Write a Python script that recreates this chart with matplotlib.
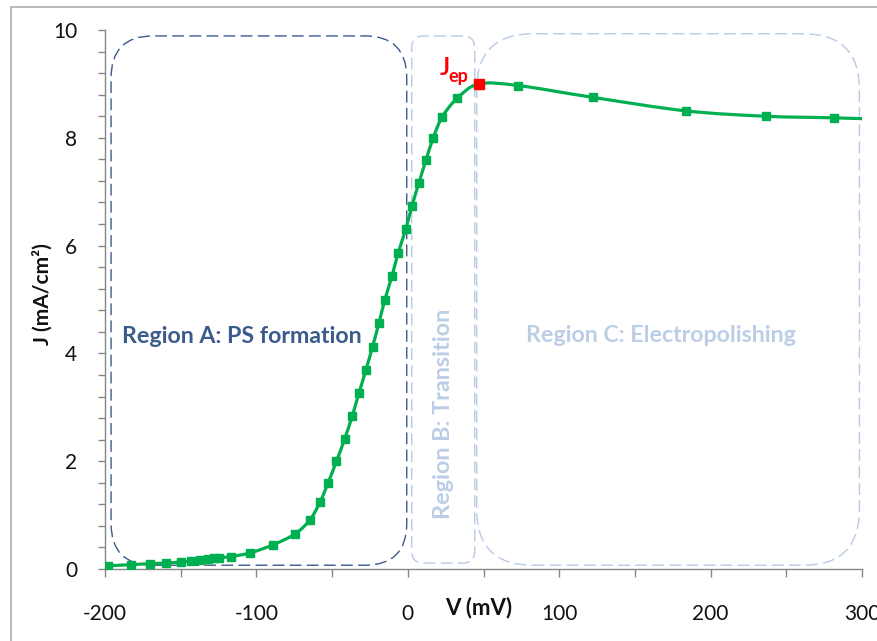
import numpy as np
import matplotlib
matplotlib.use("Agg")
import matplotlib.pyplot as plt
from matplotlib.patches import FancyBboxPatch, Rectangle, PathPatch
from matplotlib.path import Path
from matplotlib.ticker import MultipleLocator

plt.rcParams['font.family'] = ['Lato', 'DejaVu Sans']

# ---------------- data ----------------
V = [-198, -183, -170, -160, -150, -143, -137, -132, -128, -125, -117, -104,
     -89, -74.5, -64.7, -58, -52.6, -47.1, -41.6, -36.8, -32.3, -27.7, -23.3,
     -19.1, -15.2, -10.4, -6.4, -1.3, 2.8, 7.3, 11.9, 16.7, 22.6, 32.5, 46.9,
     72.8, 122.3, 183.5, 236.3, 281.8, 330]
J = [0.06, 0.08, 0.10, 0.11, 0.13, 0.15, 0.17, 0.19, 0.20, 0.21, 0.23, 0.30,
     0.45, 0.65, 0.91, 1.24, 1.60, 2.00, 2.42, 2.83, 3.26, 3.69, 4.12,
     4.56, 4.99, 5.44, 5.86, 6.31, 6.74, 7.16, 7.58, 7.99, 8.38, 8.73, 9.00,
     8.97, 8.75, 8.50, 8.40, 8.37, 8.33]
V_ep = [46.9]
J_ep = [9.00]

x_ticks = [-200, -100, 0, 100, 200, 300]
y_ticks = [0, 2, 4, 6, 8, 10]
region_labels = ["Region A: PS formation", "Region B: Transition",
                 "Region C: Electropolishing"]

GREEN = '#00B050'
DARK = '#3B5B8C'
LIGHT = '#B8CAE6'
LIGHT_TXT = '#BCCDE6'
GRAY = '#868686'

W, H = 877, 641
fig = plt.figure(figsize=(W / 100, H / 100), dpi=100)
x0px, x1px, y0px, y1px = 105, 862, 569, 30
ax = fig.add_axes([x0px / W, 1 - y0px / H, (x1px - x0px) / W, (y0px - y1px) / H])
ax.set_xlim(-200, 300)
ax.set_ylim(0, 10)

# outer chart-area border
fig.patches.append(Rectangle((11 / W, -0.1), 1.2, 1 - 7 / H + 0.1,
                             transform=fig.transFigure, fill=False,
                             edgecolor='#A6A6A6', lw=1.1))

# scales for rounding aspect
px_per_x = (x1px - x0px) / 500.0
px_per_y = (y0px - y1px) / 10.0
aspect = px_per_x / px_per_y


def region_box(xa, xb, ya, yb, r_px, color, lw=1.0):
    r = r_px / px_per_x
    p = FancyBboxPatch((xa, ya), xb - xa, yb - ya,
                       boxstyle=f"round,pad=0,rounding_size={r}",
                       mutation_aspect=aspect, fill=False, edgecolor=color,
                       lw=lw, linestyle=(0, (8.5, 3.8)), zorder=1,
                       clip_on=False)
    ax.add_patch(p)


region_box(-196, -0.7, 0.07, 9.89, 42, DARK, 1.0)
region_box(2.6, 44.2, 0.11, 9.89, 12, LIGHT, 1.0)
region_box(45.5, 298.3, 0.07, 9.93, 56, LIGHT, 1.0)


# smoothed line (Catmull-Rom bezier through the data points, as Excel does)
def smooth_path(x, y):
    pts = np.column_stack([x, y]).astype(float)
    n = len(pts)
    verts = [tuple(pts[0])]
    codes = [Path.MOVETO]
    for i in range(n - 1):
        p0 = pts[max(i - 1, 0)]
        p1 = pts[i]
        p2 = pts[i + 1]
        p3 = pts[min(i + 2, n - 1)]
        c1 = p1 + (p2 - p0) / 6.0
        c2 = p2 - (p3 - p1) / 6.0
        verts += [tuple(c1), tuple(c2), tuple(p2)]
        codes += [Path.CURVE4] * 3
    return Path(verts, codes)


ax.add_patch(PathPatch(smooth_path(V, J), facecolor='none', edgecolor=GREEN,
                       lw=2.3, zorder=3, capstyle='round', joinstyle='round'))
ax.plot(V, J, ls='none', marker='s', ms=5.2, color=GREEN, mec=GREEN, zorder=4)
ax.plot(V_ep, J_ep, ls='none', marker='s', ms=7.5, color='#FF0000',
        mec='#FF0000', zorder=5)

# J_ep label
ax.text(21, 9.17, "J", color='#FF0000', fontsize=17, fontweight='bold',
        ha='left', va='baseline', zorder=6)
ax.text(27, 9.04, "ep", color='#FF0000', fontsize=13, fontweight='bold',
        ha='left', va='baseline', zorder=6)

# region labels
ax.text(-109.5, 4.32, region_labels[0], color=DARK, fontsize=16.7,
        fontweight='bold', ha='center', va='center', zorder=2)
ax.text(23.6, 2.88, region_labels[1], color=LIGHT_TXT, fontsize=16.8,
        fontweight='bold', ha='center', va='center', rotation=90, zorder=2)
ax.text(167.5, 4.34, region_labels[2], color=LIGHT_TXT, fontsize=16.7,
        fontweight='bold', ha='center', va='center', zorder=2)

# axes styling
for s in ['top', 'right']:
    ax.spines[s].set_visible(False)
for s in ['left', 'bottom']:
    ax.spines[s].set_color(GRAY)
    ax.spines[s].set_linewidth(1.0)

ax.set_xticks(x_ticks)
ax.set_xticklabels([str(t) for t in x_ticks])
ax.xaxis.set_minor_locator(MultipleLocator(50))
ax.set_yticks(y_ticks)
ax.set_yticklabels([str(t) for t in y_ticks])
ax.yaxis.set_minor_locator(MultipleLocator(0.4))
ax.tick_params(axis='x', which='both', direction='out', length=6, width=1.0,
               color=GRAY, labelsize=15, pad=19, labelcolor='#111111')
ax.tick_params(axis='y', which='both', direction='out', length=5, width=1.0,
               color=GRAY, labelsize=15, pad=15, labelcolor='#111111')

fig.text(479 / W, 1 - 608 / H, "V (mV)", fontsize=16, fontweight='bold',
         ha='center', va='center', color='#111111')
fig.text(42 / W, 1 - 294 / H, "J (mA/cm²)", fontsize=15, fontweight='bold',
         ha='center', va='center', rotation=90, color='#111111')

fig.savefig("out.png", dpi=100)
